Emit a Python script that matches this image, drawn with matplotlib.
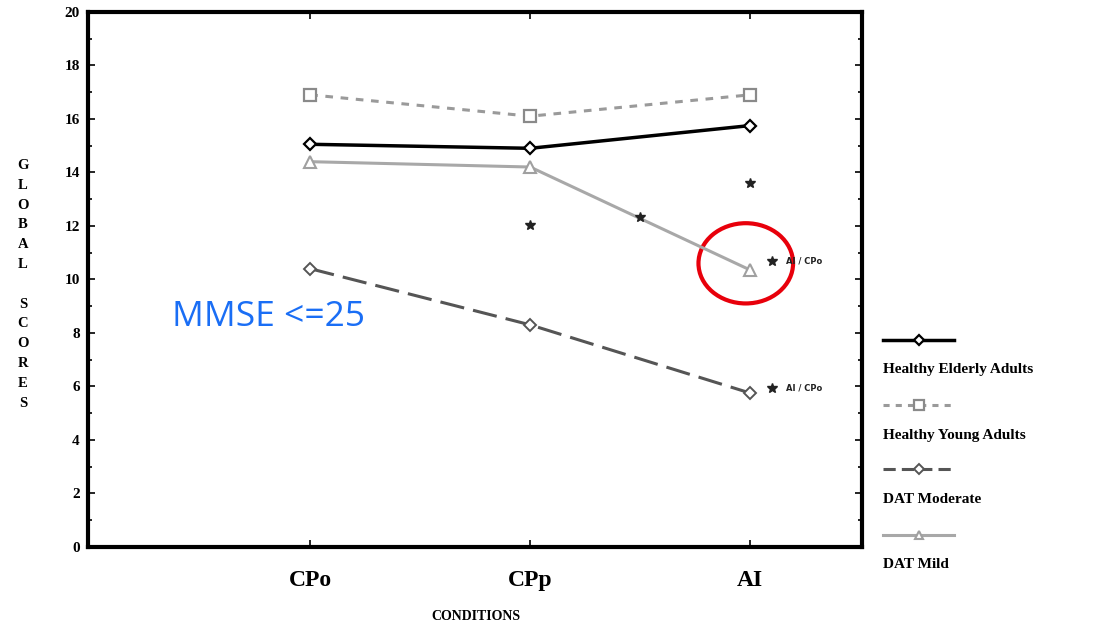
import matplotlib.pyplot as plt
from matplotlib.lines import Line2D
from matplotlib.patches import Ellipse

conditions = ['CPo', 'CPp', 'AI']
healthy_elderly = [15.05, 14.9, 15.75]
healthy_young = [16.9, 16.1, 16.9]
dat_moderate = [10.4, 8.3, 5.75]
dat_mild = [14.4, 14.2, 10.35]

# significance stars (x position in condition units, score)
star_x = [1.0, 1.5, 2.0, 2.1, 2.1]
star_y = [12.05, 12.35, 13.6, 10.7, 5.95]

serif = 'Liberation Serif'

fig = plt.figure(figsize=(10.93, 6.25), dpi=100)
ax = fig.add_axes([0.0805, 0.125, 0.7085, 0.856])

x = range(len(conditions))
ax.plot(x, healthy_young, color='#9a9a9a', linestyle=(0, (2.5, 2.5)), linewidth=2.2,
        marker='s', markersize=8, markerfacecolor='white', markeredgecolor='#8a8a8a', markeredgewidth=1.6)
ax.plot(x, healthy_elderly, color='black', linewidth=2.5,
        marker='D', markersize=6.5, markerfacecolor='white', markeredgecolor='black', markeredgewidth=1.6)
ax.plot(x, dat_mild, color='#a8a8a8', linewidth=2.2,
        marker='^', markersize=8, markerfacecolor='white', markeredgecolor='#a0a0a0', markeredgewidth=1.5)
ax.plot(x, dat_moderate, color='#555555', linestyle=(0, (8, 3)), linewidth=2.2,
        marker='D', markersize=6, markerfacecolor='white', markeredgecolor='#555555', markeredgewidth=1.4)

ax.plot(star_x, star_y, linestyle='none', marker='*', markersize=7, color='#222222')
ax.text(2.165, 10.7, 'AI / CPo', fontsize=6, fontweight='bold', va='center', color='#222222')
ax.text(2.165, 5.95, 'AI / CPo', fontsize=6, fontweight='bold', va='center', color='#222222')

ax.add_patch(Ellipse((1.98, 10.6), 0.43, 3.0, fill=False, edgecolor='#e8000b', linewidth=3))

ax.text(-0.63, 8.6, 'MMSE <=25', color='#1a6ef5', fontsize=25.5, fontfamily='Open Sans',
        va='center', ha='left')

ax.set_xlim(-1.01, 2.51)
ax.set_ylim(0, 20)
ax.set_xticks(list(x))
ax.set_xticklabels(conditions, fontfamily=serif, fontweight='bold', fontsize=17)
ax.set_yticks(range(0, 21, 2))
ax.set_yticklabels([str(v) for v in range(0, 21, 2)], fontfamily=serif, fontweight='bold', fontsize=11)
ax.set_yticks(range(0, 21), minor=True)
ax.tick_params(axis='both', which='both', direction='in', top=True, right=True, width=1.2)
ax.tick_params(axis='both', which='major', length=5)
ax.tick_params(axis='y', which='minor', length=3)
ax.tick_params(axis='x', which='major', pad=17)
ax.tick_params(axis='y', which='major', pad=6)
for side in ax.spines.values():
    side.set_linewidth(3)

fig.text(0.435, 0.008, 'CONDITIONS', fontfamily=serif, fontweight='bold', fontsize=10, ha='center')
fig.text(0.021, 0.545, '\n'.join('GLOBAL SCORES'), fontfamily=serif, fontweight='bold',
         fontsize=10.5, ha='center', va='center', linespacing=1.68)

# legend drawn outside the axes
legend_items = [
    ('Healthy Elderly Adults', dict(color='black', linewidth=2.5, marker='D', markersize=5,
                                    markerfacecolor='white', markeredgecolor='black', markeredgewidth=1.6), 0.456),
    ('Healthy Young Adults', dict(color='#9a9a9a', linestyle=(0, (2, 2)), linewidth=2.2, marker='s', markersize=6.5,
                                  markerfacecolor='white', markeredgecolor='#8a8a8a', markeredgewidth=1.6), 0.352),
    ('DAT Moderate', dict(color='#555555', linestyle=(0, (4, 2)), linewidth=2.2, marker='D', markersize=5,
                          markerfacecolor='white', markeredgecolor='#555555', markeredgewidth=1.4), 0.249),
    ('DAT Mild', dict(color='#a8a8a8', linewidth=2.2, marker='^', markersize=6,
                      markerfacecolor='white', markeredgecolor='#a0a0a0', markeredgewidth=1.5), 0.144),
]
for label, style, ypos in legend_items:
    fig.add_artist(Line2D([0.808, 0.873], [ypos, ypos], transform=fig.transFigure,
                          **{k: v for k, v in style.items() if not k.startswith('marker')}))
    fig.add_artist(Line2D([0.8405], [ypos], transform=fig.transFigure, linestyle='none',
                          **{k: v for k, v in style.items() if k.startswith('marker')}))
    fig.text(0.808, ypos - 0.048, label, fontfamily=serif, fontweight='bold', fontsize=11, va='center')

fig.savefig('out.png')
